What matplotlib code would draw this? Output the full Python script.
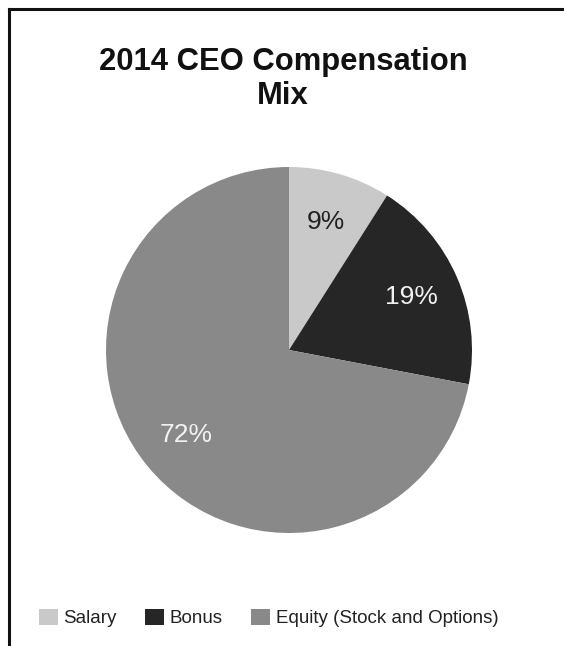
import matplotlib
matplotlib.use("Agg")
import matplotlib.pyplot as plt
from matplotlib.patches import Patch
from matplotlib.lines import Line2D

plt.rcParams["font.family"] = ["Liberation Sans", "DejaVu Sans"]

categories = ["Salary", "Bonus", "Equity (Stock and Options)"]
shares     = [9, 19, 72]
colors     = ["#c9c9c9", "#262626", "#898989"]
text_cols  = ["#222222", "#f2f2f2", "#f2f2f2"]

W, H = 564, 646
fig = plt.figure(figsize=(W / 100, H / 100), dpi=100)

# pie sits at center (289, 350) px with radius 183 px
r, cx, cy = 183, 289, 350
ax = fig.add_axes([(cx - r) / W, 1 - (cy + r) / H, 2 * r / W, 2 * r / H])
wedges, texts = ax.pie(
    shares, colors=colors, startangle=90, counterclock=False,
    labels=[f"{v}%" for v in shares], labeldistance=0.73,
    wedgeprops=dict(linewidth=0),
    textprops=dict(fontsize=19),
)
for t, c in zip(texts, text_cols):
    t.set_color(c)
    t.set_ha("center")
    t.set_va("center")
ax.set_xlim(-1, 1)
ax.set_ylim(-1, 1)
ax.set_aspect("equal")

fig.text(283 / W, 1 - 79 / H, "2014 CEO Compensation\nMix", ha="center", va="center",
         fontsize=22.3, fontweight="bold", linespacing=1.2, color="#111111")

handles = [Patch(facecolor=c, edgecolor="none") for c in colors]
leg = fig.legend(handles, categories, loc="center", bbox_to_anchor=(268.5 / W, 1 - 618 / H),
                 ncol=3, frameon=False, fontsize=13.5, handlelength=1.0, handleheight=1.0,
                 handletextpad=0.32, columnspacing=1.5)
for t in leg.get_texts():
    t.set_color("#222222")

# frame on the top and left edges
fig.add_artist(Line2D([8.5 / W, 8.5 / W], [0, 1 - 8.5 / H], color="#111111", lw=2.2))
fig.add_artist(Line2D([8.5 / W, 1], [1 - 8.5 / H, 1 - 8.5 / H], color="#111111", lw=2.2))

fig.savefig("out.png", dpi=100)
